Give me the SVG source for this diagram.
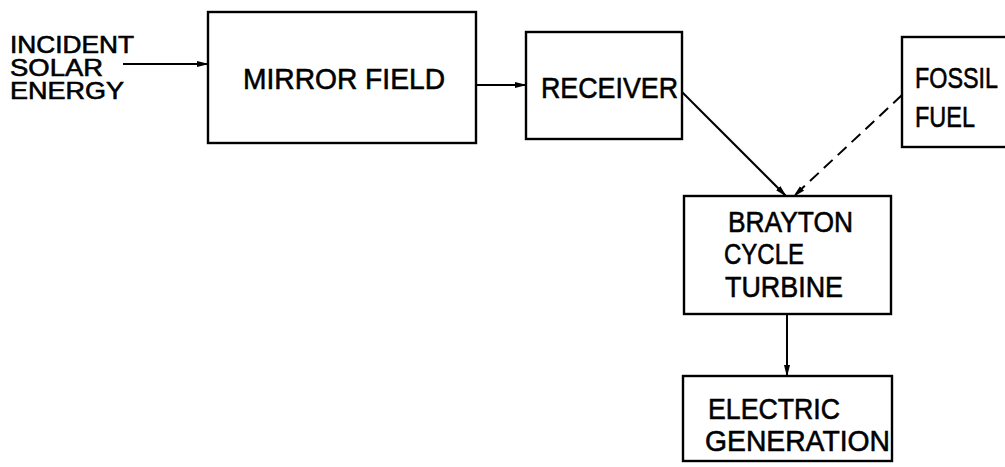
<svg xmlns="http://www.w3.org/2000/svg" width="1005" height="467" viewBox="0 0 1005 467">
<defs>
<style>
.box{fill:none;stroke:#000;stroke-width:2.4}
.t{font-family:"Liberation Sans",Arial,sans-serif;font-size:30px;fill:#000;stroke:#000;stroke-width:0.6}
.s{font-size:24px}
.c{fill:none;stroke:#000;stroke-width:2}
.d{fill:none;stroke:#000;stroke-width:2;stroke-dasharray:12,7}
</style>
<marker id="ah" markerUnits="userSpaceOnUse" markerWidth="12" markerHeight="7" refX="11" refY="3.5" orient="auto">
<path d="M0,0.5 L12,3.5 L0,6.5 z" fill="#000"/>
</marker>
</defs>
<rect width="1005" height="467" fill="#fff"/>
<g id="incident">
<text class="t s" x="10" y="53" textLength="124" lengthAdjust="spacingAndGlyphs">INCIDENT</text>
<text class="t s" x="10" y="76" textLength="93" lengthAdjust="spacingAndGlyphs">SOLAR</text>
<text class="t s" x="10" y="99" textLength="114" lengthAdjust="spacingAndGlyphs">ENERGY</text>
</g>
<g id="mirror">
<rect class="box" x="208" y="12" width="268" height="131"/>
<text class="t" x="243" y="89" textLength="202" lengthAdjust="spacingAndGlyphs">MIRROR FIELD</text>
</g>
<g id="receiver">
<rect class="box" x="526" y="32" width="156" height="107"/>
<text class="t" x="541" y="98" textLength="137" lengthAdjust="spacingAndGlyphs">RECEIVER</text>
</g>
<g id="fossil">
<rect class="box" x="902" y="37" width="110" height="110"/>
<text class="t" x="915" y="88" textLength="83" lengthAdjust="spacingAndGlyphs">FOSSIL</text>
<text class="t" x="915" y="127" textLength="60" lengthAdjust="spacingAndGlyphs">FUEL</text>
</g>
<g id="brayton">
<rect class="box" x="684" y="196" width="207" height="118"/>
<text class="t" x="728" y="232" textLength="125" lengthAdjust="spacingAndGlyphs">BRAYTON</text>
<text class="t" x="724" y="264" textLength="80" lengthAdjust="spacingAndGlyphs">CYCLE</text>
<text class="t" x="725" y="297" textLength="118" lengthAdjust="spacingAndGlyphs">TURBINE</text>
</g>
<g id="electric">
<rect class="box" x="683" y="376" width="209" height="85"/>
<text class="t" x="708" y="419" textLength="132" lengthAdjust="spacingAndGlyphs">ELECTRIC</text>
<text class="t" x="705" y="451" textLength="185" lengthAdjust="spacingAndGlyphs">GENERATION</text>
</g>
<g id="connectors">
<line class="c" x1="123" y1="64" x2="208" y2="64" marker-end="url(#ah)"/>
<line class="c" x1="476" y1="85" x2="526" y2="85" marker-end="url(#ah)"/>
<line class="c" x1="682" y1="92" x2="786" y2="196" marker-end="url(#ah)"/>
<line class="d" x1="902" y1="95" x2="794" y2="196" marker-end="url(#ah)"/>
<line class="c" x1="787" y1="314" x2="787" y2="376" marker-end="url(#ah)"/>
</g>
</svg>
